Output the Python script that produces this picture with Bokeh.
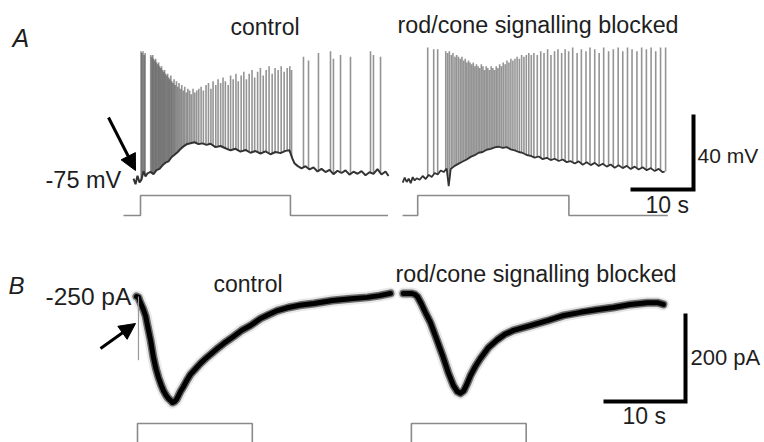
import numpy as np
from bokeh.plotting import figure
from bokeh.models import Range1d, Label, Arrow, NormalHead
from bokeh.embed import file_html
from bokeh.resources import INLINE

# ======================= DATA =======================
# ---- Panel A: current clamp; time (s) from light onset, membrane potential (mV)
A_BLOCKED_OFFSET = 44.0          # s between control and blocked record onsets
A_HOLD = -75                     # mV
A_SCALE_T, A_SCALE_V = 10, 40    # scale bar: 10 s, 40 mV

CTRL_A_T = [-1.11, -0.79, -0.48, -0.16, 0.16, 0.48, 0.79, 1.11, 1.59, 2.06,
            2.54, 3.02, 3.49, 3.97, 4.44, 4.92, 5.40, 5.87, 6.35, 6.83,
            7.30, 7.94, 8.57, 9.21, 9.84, 10.48, 11.11, 11.90, 12.70, 13.49,
            14.29, 15.08, 15.87, 16.67, 17.46, 18.25, 19.05, 19.84, 20.63, 21.43,
            22.22, 23.02, 23.65, 24.13, 24.44, 24.92, 25.56, 26.19, 26.83, 27.46,
            28.10, 28.73, 29.37, 30.00, 30.63, 31.27, 31.90, 32.54, 33.17, 33.81,
            34.44, 35.08, 35.71, 36.35, 36.98, 37.62, 38.25, 38.89, 39.37]
CTRL_A_V = [-74.0, -77.0, -72.5, -76.0, -74.5, -70.0, -72.8, -71.2, -70.4, -71.6,
            -69.5, -68.8, -66.9, -65.5, -64.8, -62.6, -61.3, -59.9, -58.2, -56.8,
            -55.7, -55.1, -54.6, -55.6, -55.2, -56.0, -55.4, -57.2, -56.6, -57.8,
            -58.9, -58.1, -59.6, -58.7, -60.2, -59.3, -60.6, -59.5, -61.0, -59.8,
            -60.4, -59.2, -58.9, -63.5, -65.8, -67.2, -68.5, -67.4, -69.1, -68.0,
            -70.2, -68.8, -70.5, -69.3, -71.6, -69.8, -71.0, -69.6, -71.9, -70.3,
            -71.4, -70.0, -72.2, -70.6, -71.5, -68.9, -71.8, -70.2, -72.6]

CTRL_SPIKE_T = [0.08, 0.22, 0.40, 0.58, 0.74,
                1.62, 1.78, 1.95, 2.08, 2.26, 2.41, 2.55, 2.73, 2.88, 3.04,
                3.19, 3.35, 3.52, 3.66, 3.83, 3.98, 4.16, 4.31, 4.49, 4.63,
                4.82, 4.97, 5.15, 5.33, 5.50, 5.71, 5.90, 6.12, 6.33, 6.55,
                6.79, 7.02, 7.28, 7.51, 7.79, 8.05, 8.34, 8.62, 8.93, 9.25,
                9.62, 9.98, 10.40, 10.79, 11.18, 11.52, 11.95, 12.31, 12.72, 13.10,
                13.47, 13.92, 14.30, 14.71, 15.15, 15.52, 15.98, 16.40, 16.81, 17.25,
                17.70, 18.12, 18.59, 19.03, 19.48, 19.94, 20.41, 20.90, 21.36, 21.85,
                22.33, 22.80, 23.28, 23.70, 23.98,
                25.87, 26.67, 28.25, 30.16, 30.63, 31.75, 33.33, 36.51, 36.98, 38.10]
CTRL_SPIKE_PEAK = [-6, -7, -6, -8, -7,
                   -8, -9, -8, -10, -11, -10, -12, -13, -12, -14,
                   -15, -14, -16, -17, -16, -18, -19, -18, -20, -21,
                   -19, -22, -23, -21, -24, -22, -25, -23, -26, -24,
                   -27, -25, -28, -26, -27, -29, -26, -28, -27, -26,
                   -25, -27, -24, -23, -26, -22, -24, -21, -23, -20,
                   -22, -24, -19, -21, -18, -22, -19, -17, -21, -18,
                   -16, -20, -17, -15, -19, -16, -14, -18, -15, -16,
                   -14, -17, -15, -14, -16,
                   -9, -11, -7, -6, -10, -8, -9, -6, -8, -9]

BLK_A_T = [-2.38, -2.06, -1.75, -1.43, -1.11, -0.79, -0.48, -0.16, 0.32, 0.79,
           1.27, 1.75, 2.22, 2.70, 3.17, 3.65, 4.13, 4.60, 4.92, 5.24,
           5.87, 6.51, 7.14, 7.78, 8.41, 9.05, 9.68, 10.32, 10.95, 11.59,
           12.22, 12.86, 13.49, 14.13, 14.76, 15.40, 16.03, 16.67, 17.30, 17.94,
           18.57, 19.21, 19.84, 20.48, 21.11, 21.75, 22.38, 23.02, 23.65, 24.29,
           24.92, 25.56, 26.19, 26.83, 27.46, 28.10, 28.73, 29.37, 30.00, 30.63,
           31.27, 31.90, 32.54, 33.17, 33.81, 34.44, 35.08, 35.71, 36.35, 36.98,
           37.62, 38.25, 38.89, 39.21]
BLK_A_V = [-76.1, -73.5, -75.8, -74.0, -76.4, -73.2, -75.0, -73.8, -74.6, -72.6,
           -74.2, -72.0, -73.1, -71.0, -71.8, -69.7, -70.5, -68.6, -78.0, -68.9,
           -67.2, -66.0, -64.9, -63.8, -62.4, -61.5, -60.2, -59.8, -58.6, -58.1,
           -57.3, -57.0, -57.6, -57.2, -58.4, -58.9, -59.8, -60.3, -61.4, -61.9,
           -62.8, -62.2, -63.6, -62.9, -64.1, -63.4, -64.6, -63.8, -65.2, -64.7,
           -65.9, -64.8, -66.6, -65.3, -66.8, -65.6, -67.3, -66.1, -67.6, -66.5,
           -68.2, -66.9, -68.4, -67.2, -68.9, -67.6, -69.1, -67.9, -69.5, -68.4,
           -69.9, -68.8, -70.6, -70.2]

BLK_SPIKE_T = [1.59, 2.54, 3.17,
               4.45, 4.74, 5.02, 5.33, 5.60, 5.91, 6.18, 6.47, 6.75, 7.02,
               7.28, 7.55, 7.80, 8.06, 8.31, 8.57, 8.82, 9.08, 9.33, 9.59,
               9.84, 10.10, 10.36, 10.61, 10.87, 11.13, 11.40, 11.66, 11.93, 12.19,
               12.46, 12.73, 13.01, 13.29, 13.58, 13.88, 14.17, 14.48, 14.79, 15.11,
               15.44, 15.78, 16.13, 16.49, 16.86, 17.24, 17.63, 18.03,
               18.44, 18.98, 19.53, 20.05, 20.62, 21.15, 21.72, 22.26, 22.85, 23.40,
               23.96, 24.60, 25.30, 25.98, 26.71, 27.35, 28.10, 28.80, 29.52, 30.30,
               31.05, 31.82, 32.55, 33.30, 34.02, 34.80, 35.55, 36.30, 37.05, 37.78,
               38.55, 39.35]
BLK_SPIKE_PEAK = [-4, -5, -5,
                  -6, -7, -6, -8, -7, -9, -8, -9, -10, -9,
                  -11, -10, -12, -11, -12, -13, -12, -14, -13, -14,
                  -15, -13, -14, -16, -14, -15, -16, -14, -15, -16,
                  -14, -15, -13, -14, -12, -13, -11, -12, -10, -11,
                  -10, -9, -10, -8, -9, -8, -7, -8,
                  -7, -8, -6, -7, -5, -8, -6, -5, -7, -5,
                  -6, -4, -7, -5, -6, -4, -5, -7, -4, -6,
                  -5, -4, -6, -4, -5, -6, -4, -5, -4, -6,
                  -4, -4]

# light stimulus monitor (0 = off, 1 = on)
STIM_A_CTRL_T = [-2.7, 0.0, 0.0, 23.8, 23.8, 39.3]
STIM_A_BLK_T = [-2.4, 0.0, 0.0, 24.0, 24.0, 39.7]
STIM_A_LEVEL = [0, 0, 1, 1, 0, 0]

# ---- Panel B: voltage clamp; time (s) from light onset, current (pA)
B_BLOCKED_OFFSET = 33.4
B_HOLD = -250
B_SCALE_T, B_SCALE_I = 10, 200

CTRL_B_T = [-0.12, 0.12, 0.24, 0.50, 0.73, 1.00, 1.22, 1.60, 1.95, 2.25,
            2.56, 2.90, 3.17, 3.50, 3.78, 4.02, 4.27, 4.50, 4.76, 5.00,
            5.24, 5.60, 6.00, 6.46, 7.00, 7.68, 8.30, 9.00, 9.76, 10.50,
            11.71, 12.70, 13.78, 15.00, 16.00, 17.07, 18.40, 19.76, 21.50, 23.78,
            26.00, 28.05, 29.50, 30.85]
CTRL_B_I = [-250, -252, -259, -270, -280, -295, -316, -350, -389, -414,
            -434, -452, -464, -475, -482, -486, -491, -489, -484, -475,
            -466, -455, -441, -427, -416, -402, -391, -380, -368, -357,
            -341, -327, -316, -300, -291, -282, -275, -270, -266, -259,
            -255, -252, -248, -243]
CTRL_B_ARTIFACT_T = 0.12
CTRL_B_ARTIFACT_I = [-250, -395]

BLK_B_T = [-0.98, -0.50, 0.00, 0.40, 0.73, 1.20, 1.70, 2.32, 3.00, 3.90,
           4.50, 5.12, 5.60, 5.98, 6.40, 6.80, 7.20, 7.80, 8.41, 9.40,
           10.49, 11.40, 12.44, 14.50, 16.59, 18.60, 20.61, 22.60, 24.63, 26.70,
           28.78, 30.00, 30.73]
BLK_B_I = [-243, -243, -243, -245, -250, -266, -286, -309, -343, -389,
           -423, -452, -466, -470, -464, -448, -430, -409, -391, -366,
           -348, -336, -327, -316, -305, -293, -286, -280, -275, -268,
           -264, -264, -268]

STIM_B_T = [0.0, 0.0, 14.0, 14.0]
STIM_B_LEVEL = [0, 1, 1, 0]

# ======================= LAYOUT (pixel placement) =======================
W, H = 764, 442
LABEL_DY = -8   # compensate label baseline placement

def lin(px0, val0, px_per_unit, sign=1):
    return lambda px: val0 + sign * (px - px0) / px_per_unit

tA = lin(140, 0.0, 6.3)
vA = lin(180, A_HOLD, 1.875, -1)
sA = lin(215, 0.0, 20.0, -1)
tB = lin(137, 0.0, 8.2)
iB = lin(296, B_HOLD, 0.44, -1)
sB = lin(460, 0.0, 37.0, -1)

p = figure(width=W, height=H, output_backend="svg", toolbar_location=None,
           x_range=Range1d(0, W), y_range=Range1d(H, 0),
           min_border=0, min_border_left=0, min_border_right=0,
           min_border_top=0, min_border_bottom=0)
p.axis.visible = False
p.grid.visible = False
p.outline_line_color = None
p.background_fill_color = "white"
p.border_fill_color = "white"

p.extra_x_ranges = {"tA": Range1d(tA(0), tA(W)), "tB": Range1d(tB(0), tB(W))}
p.extra_y_ranges = {"vA": Range1d(vA(H), vA(0)), "sA": Range1d(sA(H), sA(0)),
                    "iB": Range1d(iB(H), iB(0)), "sB": Range1d(sB(H), sB(0))}

STIM_COLOR = "#8a8a8a"
SPIKE_COLOR = "#3c3c3c"
TRACE_COLOR = "#333333"
INK = "#1e1e1e"

# ---- Panel A traces
def draw_spikes(spk_t, spk_peak, base_t, base_v, offset):
    st = np.asarray(spk_t, float)
    foot = np.interp(st, base_t, base_v)
    p.segment(x0=st + offset, y0=foot, x1=st + offset, y1=np.asarray(spk_peak, float),
              line_color=SPIKE_COLOR, line_alpha=0.55, line_width=1.6,
              x_range_name="tA", y_range_name="vA")

draw_spikes(CTRL_SPIKE_T, CTRL_SPIKE_PEAK, CTRL_A_T, CTRL_A_V, 0.0)
draw_spikes(BLK_SPIKE_T, BLK_SPIKE_PEAK, BLK_A_T, BLK_A_V, A_BLOCKED_OFFSET)
p.line(CTRL_A_T, CTRL_A_V, line_color=TRACE_COLOR, line_width=2,
       x_range_name="tA", y_range_name="vA")
p.line(np.asarray(BLK_A_T) + A_BLOCKED_OFFSET, BLK_A_V, line_color=TRACE_COLOR,
       line_width=1.8, x_range_name="tA", y_range_name="vA")

p.line(STIM_A_CTRL_T, STIM_A_LEVEL, line_color=STIM_COLOR, line_width=1.6,
       x_range_name="tA", y_range_name="sA")
p.line(np.asarray(STIM_A_BLK_T) + A_BLOCKED_OFFSET, STIM_A_LEVEL, line_color=STIM_COLOR,
       line_width=1.6, x_range_name="tA", y_range_name="sA")

# scale bar A
ca_t, ca_v = tA(693), vA(189)
p.line([ca_t - A_SCALE_T, ca_t, ca_t], [ca_v, ca_v, ca_v + A_SCALE_V],
       line_color="black", line_width=4, line_join="miter",
       x_range_name="tA", y_range_name="vA")

# ---- Panel B traces
for tt, ii, off in [(CTRL_B_T, CTRL_B_I, 0.0), (BLK_B_T, BLK_B_I, B_BLOCKED_OFFSET)]:
    xs = np.asarray(tt) + off
    p.line(xs, ii, line_color="#444444", line_alpha=0.12, line_width=12,
           line_join="round", line_cap="round", x_range_name="tB", y_range_name="iB")
    p.line(xs, ii, line_color="black", line_alpha=0.55, line_width=8,
           line_join="round", line_cap="round", x_range_name="tB", y_range_name="iB")
    p.line(xs, ii, line_color="black", line_width=5,
           line_join="round", line_cap="round", x_range_name="tB", y_range_name="iB")

p.segment(x0=[CTRL_B_ARTIFACT_T], y0=[CTRL_B_ARTIFACT_I[0]],
          x1=[CTRL_B_ARTIFACT_T], y1=[CTRL_B_ARTIFACT_I[1]],
          line_color="#9a9a9a", line_width=1.2, x_range_name="tB", y_range_name="iB")

p.line(STIM_B_T, STIM_B_LEVEL, line_color=STIM_COLOR, line_width=1.6,
       x_range_name="tB", y_range_name="sB")
p.line(np.asarray(STIM_B_T) + B_BLOCKED_OFFSET, STIM_B_LEVEL, line_color=STIM_COLOR,
       line_width=1.6, x_range_name="tB", y_range_name="sB")

cb_t, cb_i = tB(685), iB(401)
p.line([cb_t - B_SCALE_T, cb_t, cb_t], [cb_i, cb_i, cb_i + B_SCALE_I],
       line_color="black", line_width=4, line_join="miter",
       x_range_name="tB", y_range_name="iB")

# ---- Texts
FONT = "Liberation Sans"
def label(x, y, text, size="23px", style="normal"):
    p.add_layout(Label(x=x, y=y + LABEL_DY, text=text, text_font=FONT,
                       text_font_size=size, text_font_style=style, text_color=INK,
                       text_align="left", text_baseline="alphabetic"))

label(12, 45, "A", "25px", "italic")
label(230, 34, "control")
label(397, 32, "rod/cone signalling blocked", "23.3px")
label(45, 187, "-75 mV", "23.5px")
label(697, 163, "40 mV", "21px")
label(645, 212, "10 s")

label(8, 293, "B", "24px", "italic")
label(213, 291, "control")
label(395, 281, "rod/cone signalling blocked", "23.3px")
label(45, 304, "-250 pA", "24.5px")
label(690, 365, "200 pA", "22px")
label(622, 423, "10 s")

# ---- Arrows
for xs, ys, xe, ye in [(108, 117, 135, 170), (100, 348, 135, 323)]:
    p.add_layout(Arrow(x_start=xs, y_start=ys, x_end=xe, y_end=ye, line_width=3,
                       line_color="black",
                       end=NormalHead(size=16, fill_color="black", line_color="black")))

open("out.html", "w").write(file_html(p, INLINE))
